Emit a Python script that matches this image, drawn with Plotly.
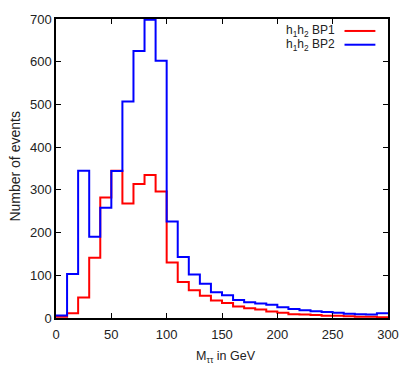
import plotly.graph_objects as go

# bin edges in GeV (10 GeV bins from 0 to 300)
bin_edges = list(range(0, 310, 10))

# events per bin
bp1_counts = [3, 11, 48, 141, 282, 345, 268, 314, 335, 296,
              130, 84, 65, 52, 41, 35, 27, 23, 20, 15,
              12, 9, 8, 7, 5.5, 5, 4, 3, 3, 2]
bp2_counts = [6, 103, 345, 190, 258, 344, 507, 625, 698, 602,
              226, 143, 102, 80, 60, 53, 42, 37, 34, 31,
              25, 21, 18, 16, 14, 12, 10, 9, 8, 11]

series = [
    ("h<sub>1</sub>h<sub>2</sub> BP1", bp1_counts, "#ff0000"),
    ("h<sub>1</sub>h<sub>2</sub> BP2", bp2_counts, "#0000ff"),
]

font_family = "Liberation Sans, Arial, sans-serif"

fig = go.Figure()
for name, counts, color in series:
    # repeat the last value so the final step runs to the right edge
    fig.add_trace(go.Scatter(
        x=bin_edges,
        y=counts + [counts[-1]],
        mode="lines",
        line=dict(color=color, width=2, shape="hv"),
        name=name,
        showlegend=False,
    ))

# legend drawn by hand: text on the left, line sample on the right
for i, (name, counts, color) in enumerate(series):
    y = 0.96 - i * 0.046
    fig.add_annotation(
        text=name, xref="paper", yref="paper", x=0.845, y=y,
        xanchor="right", yanchor="middle", showarrow=False,
        font=dict(size=12, color="#222", family=font_family),
    )
    fig.add_shape(
        type="line", xref="paper", yref="paper",
        x0=0.869, x1=0.962, y0=y, y1=y,
        line=dict(color=color, width=2),
    )

# axis titles placed by hand so the plot area keeps its size
fig.add_annotation(
    text="Number of events", xref="paper", yref="paper", x=-0.122, y=0.508,
    xanchor="center", yanchor="middle", textangle=-90, showarrow=False,
    font=dict(size=14, color="#222", family=font_family),
)
fig.add_annotation(
    text="M<sub>ττ</sub> in GeV", xref="paper", yref="paper", x=0.512, y=-0.131,
    xanchor="center", yanchor="middle", showarrow=False,
    font=dict(size=12.5, color="#222", family=font_family),
)

axis_style = dict(
    showline=True, linecolor="black", linewidth=1.5, mirror="allticks",
    ticks="inside", ticklen=5, tickwidth=1, tickcolor="black",
    showgrid=False, zeroline=False, automargin=False,
    tickfont=dict(size=13, color="#222", family=font_family),
)

fig.update_xaxes(
    range=[0, 300], tickvals=list(range(0, 301, 50)),
    ticklabelstandoff=4,
    **axis_style,
)
fig.update_yaxes(
    range=[0, 700], tickvals=list(range(0, 701, 100)),
    **axis_style,
)

# page body adds an 8px margin, so the figure is sized to fit inside it
fig.update_layout(
    width=401, height=374,
    margin=dict(l=48, r=21, t=11, b=64),
    plot_bgcolor="white", paper_bgcolor="white",
    font=dict(family=font_family),
)

fig.write_html("out.html")
